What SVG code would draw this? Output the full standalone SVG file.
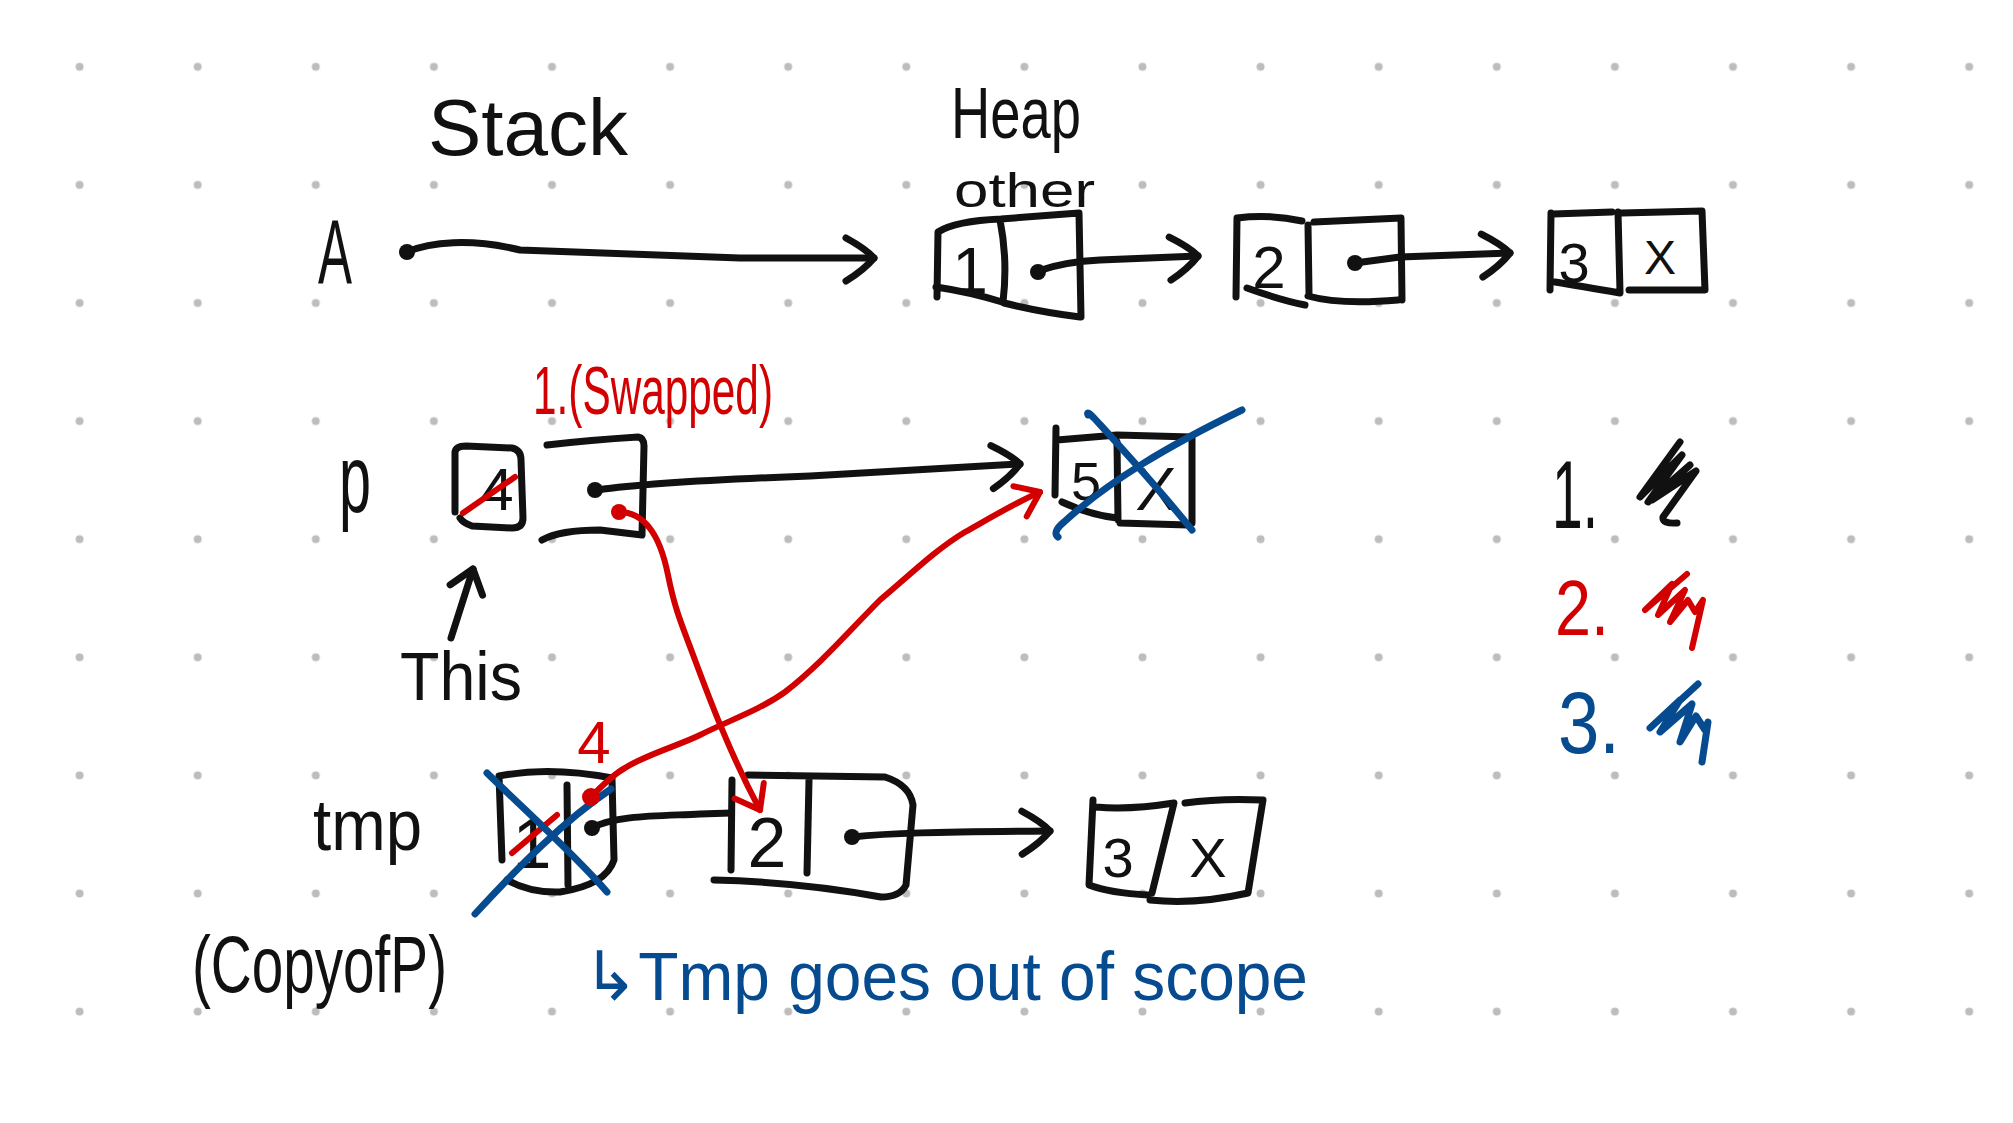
<svg xmlns="http://www.w3.org/2000/svg" width="2013" height="1123" viewBox="0 0 2013 1123">
<style>
.ink{fill:none;stroke:#111;stroke-width:7;stroke-linecap:round;stroke-linejoin:round}
.red{stroke:#d20000;stroke-width:6}
.blue{stroke:#064a8f;stroke-width:7}
.t{font-family:"Liberation Sans","DejaVu Sans",sans-serif;fill:#111}
.tr{fill:#d20000}
.tb{fill:#064a8f}
.dot{fill:#111}
.c{text-anchor:middle}
marker{overflow:visible}
</style>
<defs>
<pattern id="grid" patternUnits="userSpaceOnUse" x="20.55" y="7.75" width="118.1" height="118.1">
<circle cx="59.05" cy="59.05" r="4" fill="#bdbdbd"/>
</pattern>
<marker id="ah" viewBox="-40 -30 46 60" markerWidth="46" markerHeight="60" refX="0" refY="0" orient="auto" markerUnits="userSpaceOnUse">
<path d="M-28,-20 Q-8,-9 0,0 Q-10,12 -28,23" fill="none" stroke="#111" stroke-width="7" stroke-linecap="round" stroke-linejoin="round"/>
</marker>
<marker id="ahs" viewBox="-30 -24 36 48" markerWidth="36" markerHeight="48" refX="0" refY="0" orient="auto" markerUnits="userSpaceOnUse">
<path d="M-22,-17 L0,0 L-22,17" fill="none" stroke="#111" stroke-width="7" stroke-linecap="round" stroke-linejoin="round"/>
</marker>
<marker id="ahr" viewBox="-30 -24 36 48" markerWidth="36" markerHeight="48" refX="0" refY="0" orient="auto" markerUnits="userSpaceOnUse">
<path d="M-22,-16 L0,0 L-22,17" fill="none" stroke="#d20000" stroke-width="6" stroke-linecap="round" stroke-linejoin="round"/>
</marker>
</defs>
<rect width="2013" height="1123" fill="#ffffff"/>
<rect width="2013" height="1123" fill="url(#grid)"/>

<g id="label-stack"><text class="t" x="428" y="155" font-size="80" textLength="200" lengthAdjust="spacingAndGlyphs">Stack</text></g>
<g id="label-heap"><text class="t" x="951" y="138" font-size="72" textLength="130" lengthAdjust="spacingAndGlyphs">Heap</text></g>
<g id="label-other"><text class="t" x="954" y="207" font-size="48" textLength="141" lengthAdjust="spacingAndGlyphs">other</text></g>

<g id="var-A"><text class="t" x="318" y="283" font-size="90" textLength="34" lengthAdjust="spacingAndGlyphs">A</text>
<circle class="dot" cx="407" cy="252" r="8"/></g>

<g id="node-other-1">
<path class="ink" d="M937,297 L938,232 Q955,221 1001,219 L1079,213 L1081,317 M1004,303 Q1040,312 1080,317 M936,287 Q970,292 1002,302 M1000,220 Q1008,260 1003,302"/>
<text class="t c" x="970" y="293" font-size="64">1</text>
<circle class="dot" cx="1038" cy="272" r="8"/>
</g>
<g id="node-other-2">
<path class="ink" d="M1236,297 L1237,218 Q1270,214 1302,221 M1308,225 L1309,293 M1247,288 Q1280,300 1305,305 M1314,222 L1401,218 L1402,300 M1308,296 Q1340,305 1398,300"/>
<text class="t c" x="1269" y="288" font-size="60">2</text>
<circle class="dot" cx="1355" cy="263" r="8"/>
</g>
<g id="node-other-3">
<path class="ink" d="M1550,290 L1551,213 M1553,214 L1612,212 M1618,212 L1620,292 M1555,282 Q1580,286 1620,293 M1622,213 L1702,211 L1705,290 M1629,290 L1703,290"/>
<text class="t c" x="1574" y="282" font-size="56">3</text>
<text class="t c" x="1660" y="274" font-size="48">X</text>
</g>

<g id="var-p"><text class="t" x="339" y="512" font-size="96" textLength="32" lengthAdjust="spacingAndGlyphs">p</text></g>
<g id="node-p">
<path class="ink" d="M455,512 L455,452 Q456,446 466,446 L512,448 Q521,450 521,460 L523,518 Q523,528 512,528 L472,526 Q463,523 460,518"/>
<text class="t c" x="497" y="510" font-size="60">4</text>
<path class="ink red" d="M463,513 L515,477"/>
<path class="ink" d="M547,445 Q590,440 638,437 Q644,438 644,446 L642,535 M542,540 Q560,530 600,530 L642,535"/>
<circle class="dot" cx="595" cy="490" r="8"/>
</g>
<g id="label-swapped"><text class="t tr" x="533" y="414" font-size="68" textLength="240" lengthAdjust="spacingAndGlyphs">1.(Swapped)</text></g>
<g id="label-this"><text class="t" x="400" y="700" font-size="68" textLength="122" lengthAdjust="spacingAndGlyphs">This</text></g>

<g id="node-5">
<path class="ink" d="M1056,428 L1055,495 M1057,440 L1117,435 L1192,437 M1117,442 L1118,520 M1192,438 L1192,523 M1062,502 Q1090,515 1117,518 M1120,523 L1188,525"/>
<text class="t c" x="1086" y="500" font-size="54">5</text>
<text class="t c" x="1156" y="510" font-size="62">X</text>
<path class="ink blue" d="M1088,415 Q1086,410 1094,418 C1125,452 1160,490 1192,530 M1058,537 Q1052,532 1064,522 C1110,480 1170,445 1242,410"/>
</g>

<g id="legend">
<text class="t" x="1552" y="528" font-size="96" textLength="46" lengthAdjust="spacingAndGlyphs">1.</text>
<path class="ink" d="M1680,442 L1640,497 L1682,455 L1648,502 L1690,465 L1652,500 L1696,471 L1663,517 Q1662,524 1677,523"/>
<text class="t tr" x="1555" y="635" font-size="78" textLength="54" lengthAdjust="spacingAndGlyphs">2.</text>
<path class="ink red" d="M1687,574 L1645,610 L1672,584 L1658,615 L1685,590 L1670,622 L1688,600 L1695,612 L1703,600 L1692,648"/>
<text class="t tb" x="1558" y="753" font-size="88" textLength="62" lengthAdjust="spacingAndGlyphs">3.</text>
<path class="ink blue" d="M1698,684 L1650,728 L1680,700 L1660,732 L1692,704 L1680,742 L1696,716 L1705,730 L1708,722 L1702,762"/>
</g>

<g id="var-tmp"><text class="t" x="313" y="850" font-size="72" textLength="109" lengthAdjust="spacingAndGlyphs">tmp</text></g>
<g id="label-copy"><text class="t" x="192" y="992" font-size="80" textLength="255" lengthAdjust="spacingAndGlyphs">(CopyofP)</text></g>
<g id="label-4"><text class="t tr" x="594" y="763" font-size="60" text-anchor="middle">4</text></g>

<g id="node-tmp">
<path class="ink" d="M502,860 L499,776 Q550,766 612,778 L614,860 Q606,885 560,892 Q530,893 507,880 M567,785 L568,885"/>
<text class="t c" x="532" y="868" font-size="70">1</text>
<path class="ink red" d="M512,853 L557,815"/>
<circle class="dot" cx="592" cy="828" r="8"/>
<path class="ink blue" d="M487,773 C530,815 575,855 607,892 M475,914 C520,865 565,820 611,789"/>
</g>

<g id="node-b2">
<path class="ink" d="M732,780 L731,870 M748,775 L885,777 Q910,785 913,805 L906,885 Q900,897 881,897 Q800,882 714,880 M809,780 L807,873"/>
<text class="t c" x="767" y="867" font-size="70">2</text>
<circle class="dot" cx="852" cy="837" r="8"/>
</g>
<g id="node-b3">
<path class="ink" d="M1096,807 Q1130,810 1174,803 L1152,893 M1093,800 L1089,885 Q1110,893 1148,895 M1185,803 Q1220,798 1263,800 L1248,893 Q1195,905 1150,900"/>
<text class="t c" x="1118" y="877" font-size="56">3</text>
<text class="t c" x="1208" y="877" font-size="56">X</text>
</g>

<g id="label-scope"><text class="t tb" x="583" y="1000" font-size="68" textLength="725" lengthAdjust="spacingAndGlyphs">↳Tmp goes out of scope</text></g>

<g id="connectors">
<path class="ink" d="M407,252 C430,242 470,238 520,250 L740,258 L874,258" marker-end="url(#ah)"/>
<path class="ink" d="M1038,271 C1058,264 1078,261 1100,260 L1198,256" marker-end="url(#ah)"/>
<path class="ink" d="M1355,263 L1400,257 L1510,253" marker-end="url(#ah)"/>
<path class="ink" d="M597,490 C640,484 700,480 810,476 L1020,464" marker-end="url(#ah)"/>
<path class="ink" d="M852,837 C890,833 930,832 1050,831" marker-end="url(#ah)"/>
<path class="ink" d="M592,828 C615,815 660,816 700,814 L731,813"/>
<path class="ink" d="M451,638 L473,569" marker-end="url(#ahs)"/>
<circle cx="619" cy="512" r="8" fill="#d20000"/>
<path class="ink red" d="M619,512 C645,512 660,535 668,575 C675,610 682,625 692,652 C707,692 728,750 760,810" marker-end="url(#ahr)"/>
<circle cx="591" cy="797" r="9" fill="#d20000"/>
<path class="ink red" d="M591,797 C600,788 612,775 625,768 C645,755 680,745 700,735 C730,720 760,710 785,692 C820,665 850,630 880,600 C910,575 935,550 965,532 C990,518 1015,503 1040,492" marker-end="url(#ahr)"/>
</g>
</svg>
